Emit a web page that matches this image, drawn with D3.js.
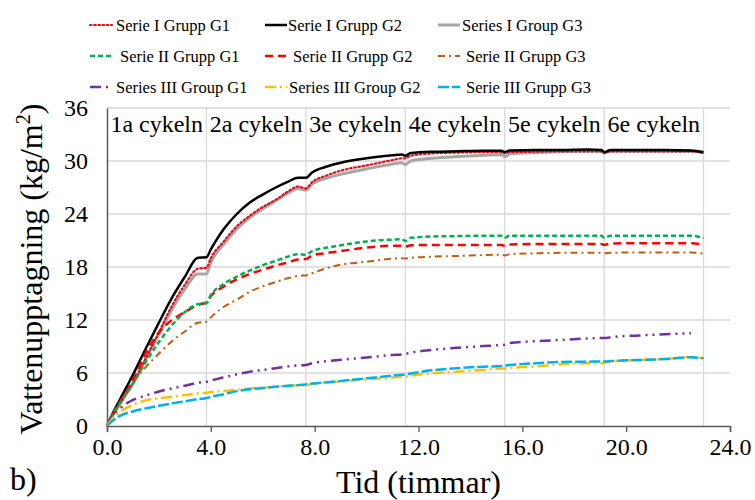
<!DOCTYPE html>
<html>
<head>
<meta charset="utf-8">
<script src="https://cdn.jsdelivr.net/npm/d3@7/dist/d3.min.js"></script>
<style>
  body { margin: 0; background: #fff; }
  svg { display: block; font-family: "Liberation Serif", "Times New Roman", serif; }
</style>
</head>
<body>
<svg id="chart" width="755" height="500"></svg>
<script>
// ---- data ----
const times = [0, 0.2, 0.5, 1, 1.5, 2, 2.5, 3, 3.5, 3.83, 4, 4.5, 5, 5.5, 6, 6.5, 7, 7.35, 7.66, 7.9,
  8.5, 9, 10, 11, 11.35, 11.49, 11.7, 12.5, 13.5, 14.5, 15.2, 15.32, 15.5, 16.5, 17.5, 18.5, 19.05, 19.15, 19.4, 20.5,
  21.5, 22.5, 22.98];

const serieIGruppG1 = [0, 1.1, 2.6, 4.9, 7.7, 10.6, 13.6, 16.0, 17.8, 17.9, 19.0, 20.9, 22.6, 23.8, 24.8, 25.6, 26.6, 27.1, 26.9, 27.6,
  28.4, 28.9, 29.5, 30.1, 30.3, 30.3, 30.6, 30.85, 30.95, 31.0, 31.0, 30.9, 31.0, 31.05, 31.1, 31.1, 31.1, 30.95, 31.1, 31.1,
  31.1, 31.1, 30.9];
const serieIGruppG2 = [0, 1.3, 3.0, 5.8, 8.8, 11.7, 14.5, 16.9, 19.05, 19.1, 20.0, 22.3, 24.0, 25.3, 26.2, 27.0, 27.7, 28.1, 28.1, 28.7,
  29.4, 29.8, 30.3, 30.65, 30.75, 30.6, 30.9, 31.05, 31.1, 31.15, 31.15, 31.0, 31.2, 31.25, 31.25, 31.3, 31.25, 31.0, 31.25, 31.25,
  31.25, 31.2, 31.0];
const seriesIGroupG3 = [0, 1.1, 2.5, 4.8, 7.6, 10.4, 13.2, 15.5, 17.2, 17.2, 18.5, 20.6, 22.3, 23.6, 24.6, 25.5, 26.4, 26.9, 26.7, 27.4,
  28.1, 28.5, 29.1, 29.65, 29.8, 29.6, 30.0, 30.3, 30.5, 30.65, 30.75, 30.5, 30.8, 30.95, 31.05, 31.1, 31.1, 30.9, 31.1, 31.1,
  31.1, 31.1, 30.95];
const serieIIGruppG1 = [0, 1.2, 2.6, 4.8, 7.3, 9.5, 11.4, 12.9, 13.8, 13.9, 14.8, 16.1, 16.9, 17.6, 18.2, 18.7, 19.2, 19.45, 19.4, 19.8,
  20.2, 20.45, 20.9, 21.1, 21.15, 20.95, 21.3, 21.45, 21.5, 21.55, 21.55, 21.3, 21.55, 21.55, 21.55, 21.55, 21.55, 21.3, 21.55, 21.55,
  21.55, 21.55, 21.3];
const serieIIGruppG2 = [0, 1.2, 2.7, 5.2, 8.3, 10.6, 12.0, 12.9, 13.7, 14.0, 14.7, 15.8, 16.6, 17.2, 17.7, 18.15, 18.55, 18.85, 18.9, 19.3,
  19.6, 19.8, 20.2, 20.4, 20.4, 20.3, 20.45, 20.5, 20.5, 20.5, 20.5, 20.4, 20.55, 20.6, 20.6, 20.6, 20.6, 20.5, 20.65, 20.7,
  20.7, 20.7, 20.5];
const serieIIGruppG3 = [0, 1.1, 2.6, 4.9, 6.7, 8.2, 9.6, 10.7, 11.7, 11.8, 12.3, 13.5, 14.3, 15.2, 15.8, 16.3, 16.75, 17.0, 17.05, 17.3,
  17.9, 18.25, 18.6, 18.95, 19.0, 18.95, 19.05, 19.17, 19.25, 19.35, 19.4, 19.3, 19.45, 19.55, 19.6, 19.6, 19.6, 19.55, 19.6, 19.65,
  19.65, 19.65, 19.5];
const seriesIIIGroupG1 = [0, 1.1, 2.0, 2.95, 3.45, 3.9, 4.25, 4.55, 4.9, 5.0, 5.15, 5.5, 5.85, 6.15, 6.35, 6.55, 6.75, 6.85, 6.9, 7.1,
  7.35, 7.5, 7.75, 8.05, 8.1, 8.15, 8.3, 8.6, 8.85, 9.05, 9.17, 9.2, 9.38, 9.6, 9.75, 9.9, 9.95, 9.95, 10.05, 10.25,
  10.4, 10.5, null];
const seriesIIIGroupG2 = [0, 0.8, 1.6, 2.4, 2.9, 3.15, 3.3, 3.5, 3.7, 3.75, 3.85, 3.95, 4.1, 4.25, 4.35, 4.45, 4.55, 4.6, 4.65, 4.75,
  4.95, 5.05, 5.28, 5.5, 5.58, 5.6, 5.7, 5.95, 6.15, 6.35, 6.5, 6.5, 6.55, 6.75, 7.0, 7.1, 7.1, 7.15, 7.3, 7.47,
  7.58, 7.8, 7.66];
const serieIIIGruppG3 = [0, 0.55, 1.15, 1.65, 2.0, 2.3, 2.56, 2.8, 3.05, 3.15, 3.3, 3.6, 3.95, 4.15, 4.3, 4.45, 4.55, 4.62, 4.7, 4.8,
  4.95, 5.1, 5.4, 5.7, 5.8, 5.85, 5.95, 6.3, 6.55, 6.72, 6.8, 6.85, 6.9, 7.1, 7.25, 7.28, 7.3, 7.3, 7.35, 7.47,
  7.58, 7.78, 7.66];

const cycleBounds = [0, 3.83, 7.66, 11.49, 15.32, 19.15, 22.98];
const cycleLabels = ["1a cykeln", "2a cykeln", "3e cykeln", "4e cykeln", "5e cykeln", "6e cykeln"];
const xTicks = [0, 4, 8, 12, 16, 20, 24];
const yTicks = [0, 6, 12, 18, 24, 30, 36];

const seriesNames = ["Serie I Grupp G1", "Serie I Grupp G2", "Series I Group G3",
  "Serie II Grupp G1", "Serie II Grupp G2", "Serie II Grupp G3",
  "Series III Group G1", "Series III Group G2", "Serie III Grupp G3"];
const seriesValues = [serieIGruppG1, serieIGruppG2, seriesIGroupG3,
  serieIIGruppG1, serieIIGruppG2, serieIIGruppG3,
  seriesIIIGroupG1, seriesIIIGroupG2, serieIIIGruppG3];

// ---- styles ----
const styles = [
  { color: "#E0101A", width: 2.2, dash: "1.6,2.6", cap: "round" },
  { color: "#000000", width: 2.5, dash: null, cap: "butt" },
  { color: "#A6A6A6", width: 3, dash: null, cap: "butt" },
  { color: "#00B050", width: 2.5, dash: "5,3", cap: "butt" },
  { color: "#FF0000", width: 2.5, dash: "8,5", cap: "butt" },
  { color: "#C55A11", width: 2, dash: "7,4,2,4", cap: "butt" },
  { color: "#7030A0", width: 2.5, dash: "11,5,2,5,2,5", cap: "butt" },
  { color: "#FFC000", width: 2.5, dash: "11,4,2,4", cap: "butt" },
  { color: "#00B0F0", width: 2.5, dash: "11,3", cap: "butt" }
];

const svg = d3.select("#chart");
const pL = 107, pR = 730, pT = 108, pB = 426;
const x = d3.scaleLinear().domain([0, 24]).range([pL, pR]);
const y = d3.scaleLinear().domain([0, 36]).range([pB, pT]);

// horizontal gridlines
svg.append("g").selectAll("line").data(yTicks.filter(d => d > 0)).join("line")
  .attr("x1", pL).attr("x2", pR)
  .attr("y1", d => y(d)).attr("y2", d => y(d))
  .attr("stroke", "#D9D9D9").attr("stroke-width", 1.3);

// vertical cycle gridlines
svg.append("g").selectAll("line").data(cycleBounds.slice(1)).join("line")
  .attr("x1", d => x(d)).attr("x2", d => x(d))
  .attr("y1", pT).attr("y2", pB)
  .attr("stroke", "#D9D9D9").attr("stroke-width", 1.3);

// cycle labels
svg.append("g").selectAll("text").data(cycleLabels).join("text")
  .attr("x", (d, i) => (x(cycleBounds[i]) + x(cycleBounds[i + 1])) / 2)
  .attr("y", 132)
  .attr("text-anchor", "middle")
  .attr("font-size", 24)
  .attr("fill", "#000")
  .text(d => d);

// axes
const xAxis = d3.axisBottom(x).tickValues(xTicks).tickFormat(d3.format(".1f")).tickSize(6).tickPadding(6);
const gx = svg.append("g").attr("transform", `translate(0,${pB})`).call(xAxis);
gx.select(".domain").attr("stroke", "#595959").attr("stroke-width", 1.5);
gx.selectAll(".tick line").attr("stroke", "#595959").attr("stroke-width", 1.3);
gx.selectAll(".tick text").attr("font-size", 24).attr("font-family", "Liberation Serif, serif").attr("fill", "#000");

const yAxis = d3.axisLeft(y).tickValues(yTicks).tickSize(0).tickPadding(19);
const gy = svg.append("g").attr("transform", `translate(${pL},0)`).call(yAxis);
gy.select(".domain").attr("stroke", "#595959").attr("stroke-width", 1.5);
gy.selectAll(".tick text").attr("font-size", 24).attr("font-family", "Liberation Serif, serif").attr("fill", "#000");

// lines
const line = d3.line()
  .defined(d => d[1] != null)
  .x(d => x(d[0])).y(d => y(d[1]))
  .curve(d3.curveMonotoneX);

const drawOrder = [2, 0, 1, 5, 4, 3, 6, 7, 8];
svg.append("g").selectAll("path").data(drawOrder).join("path")
  .attr("d", i => line(times.map((t, k) => [t, seriesValues[i][k]])))
  .attr("fill", "none")
  .attr("stroke", i => styles[i].color)
  .attr("stroke-width", i => styles[i].width)
  .attr("stroke-dasharray", i => styles[i].dash)
  .attr("stroke-linecap", i => styles[i].cap);

// legend
const legendCols = [[90, 112], [265, 287], [438, 460]];
const legendTextX = [[116, 288, 462], [120, 293, 466], [116, 289, 466]];
const legendRowY = [31, 62, 93];
const lg = svg.append("g");
seriesNames.forEach((name, i) => {
  const r = Math.floor(i / 3), c = i % 3;
  const st = styles[i];
  lg.append("line")
    .attr("x1", legendCols[c][0]).attr("x2", legendCols[c][1])
    .attr("y1", legendRowY[r] - 6).attr("y2", legendRowY[r] - 6)
    .attr("stroke", st.color).attr("stroke-width", st.width)
    .attr("stroke-dasharray", st.dash).attr("stroke-linecap", st.cap);
  lg.append("text")
    .attr("x", legendTextX[r][c]).attr("y", legendRowY[r])
    .attr("font-size", 16.5).attr("fill", "#000")
    .text(name);
});

// axis titles
const yt = svg.append("text")
  .attr("transform", `translate(42,${(pT + pB) / 2 + 2}) rotate(-90)`)
  .attr("text-anchor", "middle")
  .attr("font-size", 32).attr("fill", "#000");
yt.append("tspan").text("Vattenupptagning (kg/m");
yt.append("tspan").attr("font-size", 20).attr("dy", -12).text("2");
yt.append("tspan").attr("dy", 12).text(")");

svg.append("text")
  .attr("x", (pL + pR) / 2).attr("y", 493)
  .attr("text-anchor", "middle")
  .attr("font-size", 32).attr("fill", "#000")
  .text("Tid (timmar)");

svg.append("text")
  .attr("x", 10).attr("y", 490)
  .attr("font-size", 32).attr("fill", "#000")
  .text("b)");
</script>
</body>
</html>
